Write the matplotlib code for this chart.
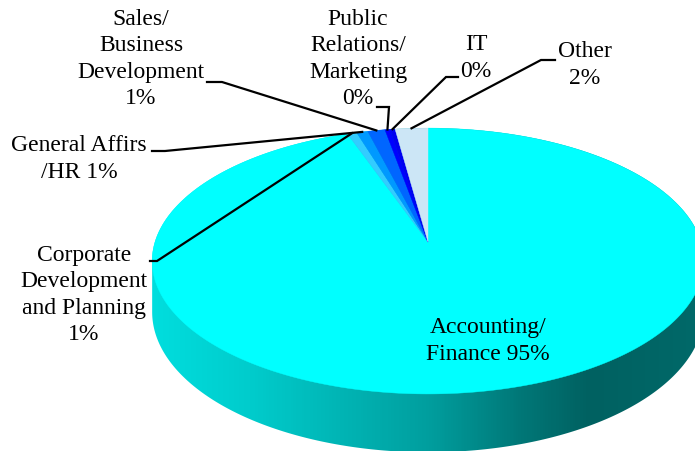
"""3D-style pie of staff share by department, drawn with plain patches."""

import numpy as np
import matplotlib.pyplot as plt
from matplotlib.patches import Polygon
from matplotlib.colors import LinearSegmentedColormap

departments = ["Accounting/Finance", "Corporate Development and Planning",
               "General Affirs/HR", "Sales/Business Development",
               "Public Relations/Marketing", "IT", "Other"]
shares = [94.57, 0.63, 0.76, 1.16, 0.34, 0.34, 2.20]
label_texts = ["Accounting/\nFinance 95%", "Corporate\nDevelopment\nand Planning\n1%",
               "General Affirs\n/HR 1%", "Sales/\nBusiness\nDevelopment\n1%",
               "Public\nRelations/\nMarketing\n0%", "IT\n0%", "Other\n2%"]
colors = ["#00FFFF", "#33CCFF", "#0099FF", "#0066FF", "#0000FF", "#0000F0", "#CCE6F6"]

# layout of the drawing, in pixels
W, H = 695, 452
cx, cy = 428, 243          # apex of the pie on screen
s, k, c = 273, 0.143, 0.477  # radius, perspective, tilt
depth = 50

# where each label sits and where its leader line starts (None = no line)
label_pos = [(488, 341), (84, 295), (79, 159), (141, 59), (358, 59), (476, 58), (585, 65)]
elbows = [None, ((150, 262), (157, 262)), ((152, 152), (165, 152)),
          ((207, 83), (222, 83)), ((377, 108), (389, 108)),
          ((458, 78), (446, 78)), ((555, 61), (541, 61))]


def project(t, dz=0.0):
    X, Y = np.cos(t), np.sin(t)
    f = 1 + k * Y
    return cx + s * X / f, cy - c * s * Y / f + dz / f


fig = plt.figure(figsize=(W / 100, H / 100), dpi=100)
ax = fig.add_axes([0, 0, 1, 1])
ax.set_xlim(0, W)
ax.set_ylim(H, 0)
ax.axis("off")

# side wall: gradient clipped to the silhouette
a = np.arcsin(k)
t_back = np.linspace(-a, np.pi + a, 300)
t_front = np.linspace(np.pi + a, 2 * np.pi - a, 300)
tx, ty = project(t_back)
bx, by = project(t_front, depth)
outline = np.column_stack([np.r_[tx, bx], np.r_[ty, by]])
sil = Polygon(outline, closed=True, facecolor="none", edgecolor="none")
ax.add_patch(sil)

side_cmap = LinearSegmentedColormap.from_list("side", [
    (0.0, (0, 0.88, 0.88)), (152 / W, (0, 0.87, 0.87)), (250 / W, (0, 0.80, 0.80)),
    (430 / W, (0, 0.62, 0.62)), (520 / W, (0, 0.47, 0.47)),
    (590 / W, (0, 0.38, 0.38)), (1.0, (0, 0.41, 0.41))])
grad = np.linspace(0, 1, 700)[None, :]
im = ax.imshow(grad, cmap=side_cmap, extent=(0, W, H, 0), aspect="auto",
               interpolation="bilinear", zorder=1)
im.set_clip_path(sil)

# top face: slices clockwise from 12 o'clock
start = np.pi / 2
mids = []
for val, col in zip(shares, colors):
    span = val / 100 * 2 * np.pi
    t = np.linspace(start, start - span, max(int(span * 80), 3))
    px, py = project(t)
    pts = np.column_stack([np.r_[cx, px], np.r_[cy, py]])
    ax.add_patch(Polygon(pts, closed=True, facecolor=col, edgecolor=col,
                         linewidth=0.3, zorder=2))
    mids.append(start - span / 2)
    start -= span

# labels and leader lines
for txt, (lx, ly), elbow, tm in zip(label_texts, label_pos, elbows, mids):
    ax.text(lx, ly, txt, ha="center", va="center", multialignment="center",
            fontsize=17, family="Liberation Serif", linespacing=1.32, zorder=4)
    if elbow is not None:
        ex, ey = project(tm)
        (x0, y0), (x1, y1) = elbow
        ax.plot([x0, x1, ex], [y0, y1, ey], color="black", lw=1.6,
                solid_joinstyle="miter", zorder=3)

plt.savefig("out.png", dpi=100)
